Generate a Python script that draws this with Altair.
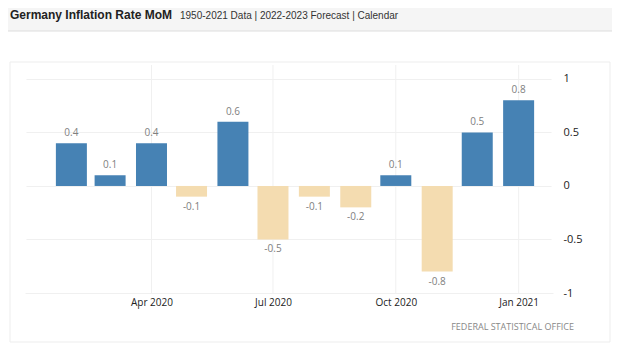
import altair as alt
import pandas as pd

months = ["2020-02-01", "2020-03-01", "2020-04-01", "2020-05-01", "2020-06-01", "2020-07-01",
          "2020-08-01", "2020-09-01", "2020-10-01", "2020-11-01", "2020-12-01", "2021-01-01"]
values = [0.4, 0.1, 0.4, -0.1, 0.6, -0.5, -0.1, -0.2, 0.1, -0.8, 0.5, 0.8]
y_ticks = [-1, -0.5, 0, 0.5, 1]
tick_dates = ["2020-04-01", "2020-07-01", "2020-10-01", "2021-01-01"]

df = pd.DataFrame({"date": months, "value": values})
df["label"] = [str(v) for v in values]

x_ticks = [alt.DateTime(year=2020, month=4, date=1, utc=True),
           alt.DateTime(year=2020, month=7, date=1, utc=True),
           alt.DateTime(year=2020, month=10, date=1, utc=True),
           alt.DateTime(year=2021, month=1, date=1, utc=True)]

xscale = alt.Scale(type="utc",
                   domain=[alt.DateTime(year=2020, month=1, date=1, utc=True),
                           alt.DateTime(year=2021, month=1, date=23, utc=True)])
yscale = alt.Scale(domain=[-1, 1.13], nice=False, zero=False)
xaxis = alt.Axis(values=x_ticks, labelExpr="utcFormat(datum.value, '%b %Y')", title=None,
                 grid=False, domain=False, ticks=False,
                 labelFont="Open Sans", labelFontSize=10, labelColor="#222",
                 labelPadding=4)
yaxis = alt.Axis(orient="right", values=y_ticks, labelExpr="'' + datum.value",
                 title=None, grid=True, gridColor="#f0f0f0", domain=False,
                 ticks=False, labelPadding=10, labelFont="Open Sans",
                 labelFontSize=11, labelColor="#222")
x = alt.X("date:T", scale=xscale, axis=xaxis)
y = alt.Y("value:Q", scale=yscale, axis=yaxis)

base = alt.Chart(df)

vgrid = alt.Chart(pd.DataFrame({"date": tick_dates})).mark_rule(
    color="#f0f0f0", strokeWidth=1
).encode(x=x, y=alt.value(0), y2=alt.value(228))

bars = base.mark_bar(size=31).encode(
    x=x, y=y, y2=alt.datum(0),
    color=alt.when(alt.datum.value > 0).then(alt.value("#4682b4")).otherwise(alt.value("#f4dcb0")),
)

pos_labels = base.transform_filter(alt.datum.value > 0).mark_text(
    baseline="bottom", dy=-5, font="Open Sans", fontSize=10, color="#808080"
).encode(x=x, y=y, text="label:N")

neg_labels = base.transform_filter(alt.datum.value < 0).mark_text(
    baseline="top", dy=5, font="Open Sans", fontSize=10, color="#808080"
).encode(x=x, y=y, text="label:N")

one = pd.DataFrame({"k": [0]})
header_bg = alt.Chart(one).mark_rect(color="#f5f5f5").encode(
    x=alt.value(-17), x2=alt.value(590), y=alt.value(-57), y2=alt.value(-34))
header_line = alt.Chart(one).mark_rule(color="#dddddd", strokeWidth=1).encode(
    x=alt.value(-17), x2=alt.value(590), y=alt.value(-34))
panel = alt.Chart(one).mark_rect(filled=False, stroke="#ededed", strokeWidth=1).encode(
    x=alt.value(-15), x2=alt.value(585), y=alt.value(-3), y2=alt.value(277))
# white covers over the plot's left and right edges (hide the view frame)
edge_left = alt.Chart(one).mark_rule(color="white", strokeWidth=3).encode(
    x=alt.value(0), y=alt.value(-1), y2=alt.value(227))
edge_right = alt.Chart(one).mark_rule(color="white", strokeWidth=3).encode(
    x=alt.value(528), y=alt.value(-1), y2=alt.value(227))
title = alt.Chart(one).mark_text(
    text="Germany Inflation Rate MoM", align="left", baseline="alphabetic",
    font="Liberation Sans", fontSize=12, fontWeight="bold", color="#222"
).encode(x=alt.value(-15), y=alt.value(-46))
subtitle = alt.Chart(one).mark_text(
    text="1950-2021 Data | 2022-2023 Forecast | Calendar", align="left", baseline="alphabetic",
    font="Liberation Sans", fontSize=10, color="#333"
).encode(x=alt.value(155), y=alt.value(-46))
source = alt.Chart(one).mark_text(
    text="FEDERAL STATISTICAL OFFICE", align="right", baseline="middle",
    font="Open Sans", fontSize=9, color="#888"
).encode(x=alt.value(549), y=alt.value(262))

chart = alt.layer(
    header_bg, header_line, panel, vgrid, bars, pos_labels, neg_labels,
    edge_left, edge_right, title, subtitle, source
).properties(
    width=528, height=228,
    background="white",
    autosize=alt.AutoSizeParams(type="none"),
    padding={"left": 17, "top": 57, "right": 59, "bottom": 50},
).configure_view(stroke=None, strokeWidth=0).configure_axis(
    domain=False, ticks=False, gridColor="#f0f0f0")

chart.save("out.html", embed_options={"renderer": "svg", "actions": False})
